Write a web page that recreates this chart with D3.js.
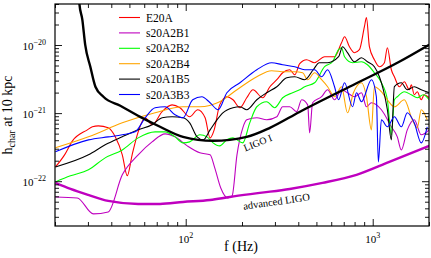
<!DOCTYPE html>
<html>
<head>
<meta charset="utf-8">
<script src="https://cdn.jsdelivr.net/npm/d3@7"></script>
<style>
  html, body { margin: 0; padding: 0; background: #fff; }
  svg text { font-family: "Liberation Serif", "Times New Roman", serif; fill: #000; }
</style>
</head>
<body>
<svg id="chart" width="431" height="258"></svg>
<script>
// frequencies in Hz, characteristic strain in units of 1e-22
const fE20A = [20.1, 22.5, 24.8, 29.8, 31.7, 34.1, 38.5, 42.0, 45.8, 48.7, 51.7, 55.7, 60.7, 66.1, 74.8, 84.5, 93.2, 105, 116, 127, 135, 142, 152, 166, 179, 195, 212, 229, 258, 282, 307, 330, 360, 383, 407, 443, 489, 553, 625, 681, 707, 751, 799, 849, 903, 926, 960, 1021, 1086, 1155, 1198, 1258, 1306, 1388, 1476, 1570, 1608, 1668, 1731, 1818, 1886, 2005]
const hE20A = [1.62, 2.44, 3.91, 5.68, 6.29, 6.50, 6.08, 4.48, 2.44, 1.20, 2.44, 5.31, 8.53, 6.73, 10.5, 13.2, 12.0, 8.83, 11.2, 8.53, 4.33, 5.68, 13.2, 17.4, 15.7, 12.0, 16.8, 22.0, 16.8, 24.4, 30.9, 39.1, 43.3, 36.6, 53.1, 60.8, 55.0, 67.3, 67.3, 108, 132, 94.4, 77.1, 85.3, 186, 252, 94.4, 60.8, 48.0, 55.0, 91.3, 43.3, 34.2, 24.4, 28.9, 22.0, 26.1, 18.6, 20.6, 15.7, 18.6, 16.8]

const fB1 = [20.1, 26.3, 32.1, 38.5, 45.8, 55.7, 66.1, 77.6, 87.7, 102, 119, 135, 143, 154, 168, 177, 188, 202, 212, 240, 271, 307, 330, 360, 392, 417, 449, 460, 477, 533, 574, 625, 681, 733, 799, 871, 926, 984, 1113, 1258, 1354, 1422, 1531, 1668, 1818, 2005]
const hB1 = [0.587, 0.568, 0.331, 0.354, 1.24, 2.44, 3.78, 4.96, 4.48, 3.30, 2.61, 2.44, 1.57, 0.797, 0.568, 0.608, 2.44, 6.08, 7.97, 8.53, 7.97, 8.83, 12.4, 12.4, 10.5, 15.7, 13.2, 5.13, 14.2, 17.4, 22.0, 15.7, 22.0, 19.9, 17.4, 19.9, 12.4, 14.2, 11.2, 6.29, 4.48, 2.88, 5.68, 7.97, 4.80, 5.68]

const fB2 = [20.1, 24.2, 30.2, 37.1, 45.8, 55.7, 68.6, 77.6, 87.7, 96.7, 105, 119, 130, 140, 152, 166, 179, 202, 220, 240, 271, 299, 330, 373, 407, 433, 489, 553, 610, 657, 681, 707, 780, 871, 937, 1021, 1113, 1198, 1258, 1306, 1354, 1476, 1608, 1731, 1863, 2005]
const hB2 = [0.977, 1.20, 1.47, 2.20, 2.88, 4.33, 5.31, 5.31, 4.48, 3.66, 3.78, 4.80, 4.48, 3.66, 3.30, 4.05, 4.33, 3.66, 7.20, 12.4, 14.7, 12.0, 16.8, 19.9, 22.0, 24.4, 27.9, 48.0, 56.8, 85.3, 91.3, 67.3, 55.0, 56.8, 51.3, 39.1, 27.9, 15.7, 4.80, 15.7, 17.4, 20.6, 18.6, 16.8, 18.6, 15.7]

const fB4 = [20.1, 30.2, 45.8, 68.6, 96.7, 119, 152, 188, 240, 288, 338, 383, 422, 449, 489, 533, 574, 625, 681, 733, 789, 871, 926, 984, 1021, 1113, 1198, 1306, 1476, 1628, 1731, 1818, 1957]
const hB4 = [3.09, 4.48, 7.20, 10.1, 12.4, 12.4, 14.7, 22.0, 34.2, 41.9, 40.5, 40.5, 39.1, 30.9, 39.1, 30.9, 24.4, 17.4, 24.4, 10.1, 19.9, 27.9, 17.4, 5.68, 24.4, 20.6, 15.7, 12.4, 15.7, 7.97, 6.08, 11.2, 7.97]

const fA1B5 = [20.1, 30.2, 37.1, 45.8, 55.7, 66.1, 74.8, 84.5, 96.7, 105, 115, 124, 135, 147, 158, 179, 195, 212, 240, 271, 307, 347, 383, 433, 481, 518, 574, 657, 690, 733, 799, 871, 937, 1021, 1086, 1140, 1198, 1258, 1306, 1422, 1531, 1668, 1818, 2005]
const hA1B5 = [1.62, 2.44, 3.42, 4.48, 5.68, 6.73, 8.53, 8.83, 8.53, 7.20, 4.48, 4.05, 5.68, 7.97, 10.1, 12.0, 12.4, 11.2, 15.7, 19.9, 24.4, 33.0, 34.2, 30.9, 43.3, 55.0, 55.0, 67.3, 94.4, 77.1, 56.8, 65.0, 56.8, 48.0, 34.2, 22.0, 11.2, 4.05, 24.4, 27.9, 22.0, 24.4, 22.0, 19.9]

const fA3B3 = [20.1, 30.2, 38.5, 45.8, 53.7, 60.7, 68.6, 77.6, 87.7, 96.7, 109, 122, 135, 149, 166, 195, 240, 288, 330, 383, 433, 489, 533, 574, 625, 657, 707, 780, 819, 871, 984, 1046, 1072, 1113, 1198, 1306, 1422, 1531, 1668, 1818, 1957]
const hA3B3 = [2.70, 4.05, 4.48, 4.80, 5.31, 8.53, 12.0, 12.4, 9.44, 8.53, 15.7, 17.4, 14.2, 11.2, 19.9, 27.9, 43.3, 55.0, 51.3, 48.0, 43.3, 43.3, 34.2, 43.3, 24.4, 15.7, 27.9, 12.4, 19.9, 14.7, 30.9, 17.4, 1.92, 7.97, 6.29, 8.83, 6.29, 10.1, 7.20, 3.66, 6.29]

// detector sensitivity curves
const fLigo1 = [26.7, 27.0, 28.0, 29.0, 30.9, 32.9, 36.3, 44.7, 57.1, 72.9, 96.7, 140, 212, 282, 406, 751, 1387, 2004]
const hLigo1 = [650, 405, 236, 101, 48, 24.4, 17.4, 12.8, 8.8, 6.3, 4.48, 3.92, 4.48, 6.08, 10.4, 24.4, 56.8, 101]

const fAdvLigo = [20.1, 24.2, 30.1, 38.5, 55.7, 72.9, 96.7, 135, 172, 249, 360, 539, 819, 1227, 2004]
const hAdvLigo = [0.944, 0.77, 0.63, 0.514, 0.464, 0.464, 0.496, 0.53, 0.587, 0.673, 0.77, 0.944, 1.24, 1.92, 3.3]

const seriesNames = ['E20A', 's20A2B1', 's20A2B2', 's20A2B4', 's20A1B5', 's20A3B3']
const seriesColors = ['#ff0000', '#bf00bf', '#00ff00', '#ffa500', '#000000', '#0000ff']
const seriesF = [fE20A, fB1, fB2, fB4, fA1B5, fA3B3]
const seriesH = [hE20A, hB1, hB2, hB4, hA1B5, hA3B3]

const xMajor = [100, 1000]
const xMinor = [20, 30, 40, 50, 60, 70, 80, 90, 200, 300, 400, 500, 600, 700, 800, 900, 2000]
const yMajor = [1, 10, 100]
const yMinor = [0.3, 0.4, 0.5, 0.6, 0.7, 0.8, 0.9, 2, 3, 4, 5, 6, 7, 8, 9, 20, 30, 40, 50, 60, 70, 80, 90, 200, 300, 400]

const margin = { top: 4, right: 2, bottom: 32, left: 55 }
const width = 431
const height = 258

const svg = d3.select('#chart')

const x = d3.scaleLog()
  .domain([20, 2000])
  .range([margin.left, width - margin.right])

const y = d3.scaleLog()
  .domain([0.22, 400])
  .range([height - margin.bottom, margin.top])

svg.append('clipPath')
  .attr('id', 'plot-clip')
  .append('rect')
  .attr('x', margin.left)
  .attr('y', margin.top)
  .attr('width', width - margin.left - margin.right)
  .attr('height', height - margin.top - margin.bottom)

const zip = (fs, hs) => fs.map((f, i) => [f, hs[i]])

const line = d3.line()
  .curve(d3.curveMonotoneX)
  .x(d => x(d[0]))
  .y(d => y(d[1]))

const plot = svg.append('g').attr('clip-path', 'url(#plot-clip)')

seriesNames.forEach((name, i) => {
  plot.append('path')
    .datum(zip(seriesF[i], seriesH[i]))
    .attr('fill', 'none')
    .attr('stroke', seriesColors[i])
    .attr('stroke-width', 1.1)
    .attr('stroke-linejoin', 'round')
    .attr('d', line)
})

plot.append('path')
  .datum(zip(fAdvLigo, hAdvLigo))
  .attr('fill', 'none')
  .attr('stroke', '#bf00bf')
  .attr('stroke-width', 2.4)
  .attr('d', line)

plot.append('path')
  .datum(zip(fLigo1, hLigo1))
  .attr('fill', 'none')
  .attr('stroke', '#000')
  .attr('stroke-width', 2.4)
  .attr('d', line)

// axes: ticks pointing inward on all four sides
const x0 = margin.left
const x1 = width - margin.right
const y0 = height - margin.bottom
const y1 = margin.top

const tickAxis = (axisFn, scale, values, size, transform) => {
  svg.append('g')
    .attr('class', 'ticks')
    .attr('transform', transform)
    .call(axisFn(scale).tickValues(values).tickSize(-size).tickSizeOuter(0).tickFormat(''))
}

tickAxis(d3.axisBottom, x, xMajor, 7, `translate(0,${y0})`)
tickAxis(d3.axisBottom, x, xMinor, 4, `translate(0,${y0})`)
tickAxis(d3.axisTop, x, xMajor, 7, `translate(0,${y1})`)
tickAxis(d3.axisTop, x, xMinor, 4, `translate(0,${y1})`)
tickAxis(d3.axisLeft, y, yMajor, 7, `translate(${x0},0)`)
tickAxis(d3.axisLeft, y, yMinor, 4, `translate(${x0},0)`)
tickAxis(d3.axisRight, y, yMajor, 7, `translate(${x1},0)`)
tickAxis(d3.axisRight, y, yMinor, 4, `translate(${x1},0)`)

svg.selectAll('.ticks path').remove()
svg.selectAll('.ticks line').attr('stroke', '#000').attr('stroke-width', 0.9)

svg.append('rect')
  .attr('x', x0)
  .attr('y', y1)
  .attr('width', x1 - x0)
  .attr('height', y0 - y1)
  .attr('fill', 'none')
  .attr('stroke', '#000')
  .attr('stroke-width', 1.2)

// tick labels
xMajor.forEach(v => {
  const t = svg.append('text')
    .attr('x', x(v))
    .attr('y', y0 + 17)
    .attr('text-anchor', 'middle')
    .attr('font-size', 11)
  t.append('tspan').text('10')
  t.append('tspan').attr('dy', -5).attr('font-size', 8).text(Math.round(Math.log10(v)))
})

yMajor.forEach(v => {
  const t = svg.append('text')
    .attr('x', x0 - 9)
    .attr('y', y(v) + 5)
    .attr('text-anchor', 'end')
    .attr('font-size', 11)
  t.append('tspan').text('10')
  t.append('tspan').attr('dy', -5).attr('font-size', 8).text('\u2212' + (22 - Math.round(Math.log10(v))))
})

// axis titles
svg.append('text')
  .attr('x', 241)
  .attr('y', 251)
  .attr('text-anchor', 'middle')
  .attr('font-size', 14)
  .text('f (Hz)')

const yTitle = svg.append('text')
  .attr('transform', `translate(12,${(y0 + y1) / 2}) rotate(-90)`)
  .attr('text-anchor', 'middle')
  .attr('font-size', 14)
yTitle.append('tspan').text('h')
yTitle.append('tspan').attr('dy', 3).attr('font-size', 10).text('char')
yTitle.append('tspan').attr('dy', -3).text(' at 10 kpc')

// curve annotations
svg.append('text')
  .attr('transform', 'translate(259,146) rotate(-22)')
  .attr('text-anchor', 'middle')
  .attr('font-size', 10)
  .text('LIGO I')

svg.append('text')
  .attr('transform', 'translate(277,205) rotate(-8)')
  .attr('text-anchor', 'middle')
  .attr('font-size', 10.5)
  .text('advanced LIGO')

// legend
const legend = svg.append('g')
  .selectAll('g')
  .data(seriesNames)
  .join('g')
  .attr('transform', (d, i) => `translate(119,${17.5 + i * 15.4})`)

legend.append('line')
  .attr('x1', 0)
  .attr('x2', 21)
  .attr('stroke', (d, i) => seriesColors[i])
  .attr('stroke-width', 1.1)

legend.append('text')
  .attr('x', 27)
  .attr('y', 4)
  .attr('font-size', 11.5)
  .text(d => d)
</script>
</body>
</html>
